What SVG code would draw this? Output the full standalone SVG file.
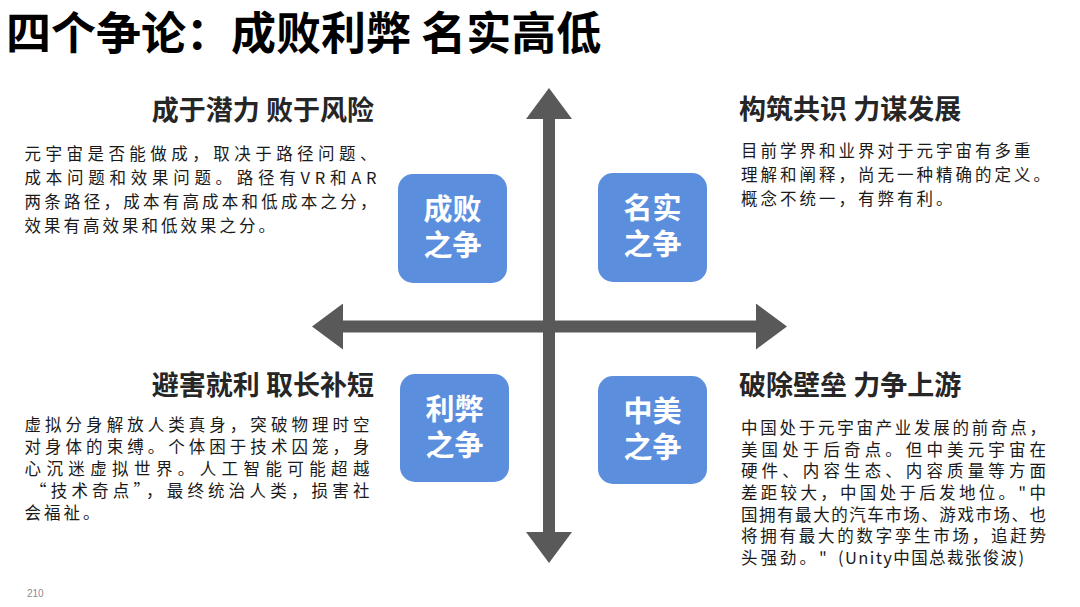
<svg xmlns="http://www.w3.org/2000/svg" width="1080" height="607" viewBox="0 0 1080 607">
<style>
text{font-family:'Noto Sans CJK SC','Noto Sans',sans-serif}
.title{font-weight:700;font-size:45px;fill:#000}
.head{font-weight:700;font-size:27px;fill:#262626}
.body{font-size:16.5px;letter-spacing:3px;fill:#1a1a1a}
.box{fill:#5B8FDE}
.boxt{font-weight:700;font-size:29px;fill:#fff;text-anchor:middle}
.axis{stroke:#595959;stroke-width:12;fill:none}
.pg{font-size:10px;fill:#8c8c8c;font-family:'Liberation Sans',sans-serif}
</style>
<defs>
<marker id="ah" markerUnits="userSpaceOnUse" markerWidth="32" markerHeight="46" refX="1" refY="23" orient="auto-start-reverse" viewBox="0 0 32 46">
<path d="M0,0 L31,23 L0,46 z" fill="#595959"/>
</marker>
</defs>
<rect width="1080" height="607" fill="#fff"/>
<g id="title"><text class="title" x="6" y="50">四个争论：成败利弊 名实高低</text></g>
<g id="connectors">
<line class="axis" x1="549" y1="118" x2="549" y2="533" marker-start="url(#ah)" marker-end="url(#ah)"/>
<line class="axis" x1="342" y1="326.5" x2="757" y2="326.5" marker-start="url(#ah)" marker-end="url(#ah)"/>
</g>
<g id="node-chengbai">
<rect class="box" x="398" y="174" width="109" height="109" rx="15"/>
<text class="boxt" x="452.5" y="220">成败<tspan x="452.5" y="256">之争</tspan></text>
</g>
<g id="node-mingshi">
<rect class="box" x="598" y="173" width="109" height="109" rx="15"/>
<text class="boxt" x="652.5" y="219">名实<tspan x="652.5" y="255">之争</tspan></text>
</g>
<g id="node-libi">
<rect class="box" x="400" y="374" width="109" height="108" rx="15"/>
<text class="boxt" x="454.5" y="419.5">利弊<tspan x="454.5" y="455.5">之争</tspan></text>
</g>
<g id="node-zhongmei">
<rect class="box" x="598" y="376" width="109" height="108" rx="15"/>
<text class="boxt" x="652.5" y="421.5">中美<tspan x="652.5" y="457.5">之争</tspan></text>
</g>
<g id="text-topleft">
<text class="head" x="374" y="120" text-anchor="end">成于潜力 败于风险</text>
<text class="body" x="24.5" y="160" textLength="355" lengthAdjust="spacing">元宇宙是否能做成，取决于路径问题、</text>
<text class="body" x="24.5" y="184" textLength="355" lengthAdjust="spacing">成本问题和效果问题。路径有VR和AR</text>
<text class="body" x="24.5" y="208" textLength="355" lengthAdjust="spacing">两条路径，成本有高成本和低成本之分，</text>
<text class="body" x="24.5" y="232">效果有高效果和低效果之分。</text>
</g>
<g id="text-topright">
<text class="head" x="739" y="119">构筑共识 力谋发展</text>
<text class="body" x="741" y="157">目前学界和业界对于元宇宙有多重</text>
<text class="body" x="741" y="181">理解和阐释，尚无一种精确的定义。</text>
<text class="body" x="741" y="205">概念不统一，有弊有利。</text>
</g>
<g id="text-bottomleft">
<text class="head" x="374" y="395" text-anchor="end">避害就利 取长补短</text>
<text class="body" x="24.5" y="430.5" textLength="348" lengthAdjust="spacing">虚拟分身解放人类真身，突破物理时空</text>
<text class="body" x="24.5" y="452.5" textLength="348" lengthAdjust="spacing">对身体的束缚。个体困于技术囚笼，身</text>
<text class="body" x="24.5" y="474.5" textLength="348" lengthAdjust="spacing">心沉迷虚拟世界。人工智能可能超越</text>
<text class="body" x="30" y="496.5" textLength="342.5" lengthAdjust="spacing">“技术奇点”，最终统治人类，损害社</text>
<text class="body" x="24.5" y="518.5">会福祉。</text>
</g>
<g id="text-bottomright">
<text class="head" x="739" y="395">破除壁垒 力争上游</text>
<text class="body" x="741" y="434" textLength="308" lengthAdjust="spacing">中国处于元宇宙产业发展的前奇点，</text>
<text class="body" x="741" y="455.5" textLength="308" lengthAdjust="spacing">美国处于后奇点。但中美元宇宙在</text>
<text class="body" x="741" y="477" textLength="308" lengthAdjust="spacing">硬件、内容生态、内容质量等方面</text>
<text class="body" x="741" y="499" textLength="308" lengthAdjust="spacing">差距较大，中国处于后发地位。"中</text>
<text class="body" x="741" y="520.5" textLength="308" lengthAdjust="spacing">国拥有最大的汽车市场、游戏市场、也</text>
<text class="body" x="741" y="542" textLength="308" lengthAdjust="spacing">将拥有最大的数字孪生市场，追赶势</text>
<text class="body" x="741" y="564">头强劲。"</text>
<text x="838" y="564" font-size="16.5" fill="#1a1a1a" textLength="186" lengthAdjust="spacing">(Unity中国总裁张俊波)</text>
</g>
<g id="page"><text class="pg" x="27" y="597">210</text></g>
</svg>
